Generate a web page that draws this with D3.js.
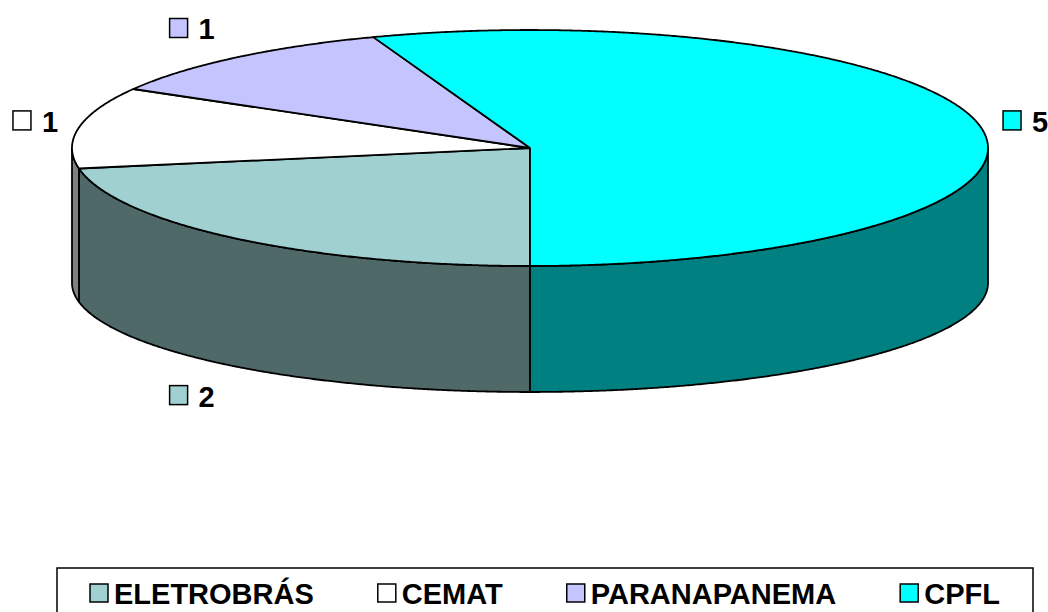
<!DOCTYPE html>
<html><head><meta charset="utf-8">
<script src="https://cdn.jsdelivr.net/npm/d3@7"></script>
<style>body{margin:0;background:#fff} svg{display:block}</style>
</head><body>
<script>
const categories = ["ELETROBRÁS", "CEMAT", "PARANAPANEMA", "CPFL"];
const values = [2, 1, 1, 5];
const topColors = ["#A0D0D0", "#FFFFFF", "#C4C4FF", "#00FFFF"];
const sideColors = ["#4F6868", "#808080", "#6262A0", "#008080"];

const W = 1048, H = 612;
const svg = d3.select("body").append("svg").attr("width", W).attr("height", H)
  .style("font-family", "'Liberation Sans', Arial, sans-serif").style("font-weight", "bold");

const cx = 530, cy = 148, rx = 458, ry = 118, cyB = 283, ryB = 109;
const data = categories.map((c, i) => ({name: c, value: values[i], top: topColors[i], side: sideColors[i]}));
const pie = d3.pie().sort(null).value(d => d.value).startAngle(Math.PI).endAngle(3 * Math.PI);
const arcs = pie(data);

function pt(a, bottom) {
  return [cx + rx * Math.sin(a), bottom ? cyB - ryB * Math.cos(a) : cy - ry * Math.cos(a)];
}
function arcPts(a0, a1, bottom) {
  const n = Math.max(2, Math.ceil(Math.abs(a1 - a0) / 0.005));
  return d3.range(n + 1).map(i => pt(a0 + (a1 - a0) * i / n, bottom));
}
const line = d3.line();

// side walls (front half only)
const gWalls = svg.append("g");
arcs.forEach(d => {
  for (let k = -1; k <= 2; k++) {
    const f0 = Math.PI / 2 + 2 * Math.PI * k, f1 = 3 * Math.PI / 2 + 2 * Math.PI * k;
    const s = Math.max(d.startAngle, f0), e = Math.min(d.endAngle, f1);
    if (e > s) {
      const pts = arcPts(s, e, false).concat(arcPts(e, s, true));
      gWalls.append("path").attr("d", line(pts) + "Z")
        .attr("fill", d.data.side).attr("stroke", "#000").attr("stroke-width", 1.8)
        .attr("stroke-linejoin", "round");
    }
  }
});

// top faces
const gTop = svg.append("g");
arcs.forEach(d => {
  const pts = [[cx, cy]].concat(arcPts(d.startAngle, d.endAngle, false));
  gTop.append("path").attr("d", line(pts) + "Z")
    .attr("fill", d.data.top).attr("stroke", "#000").attr("stroke-width", 1.8)
    .attr("stroke-linejoin", "round");
});

// data labels
const gLab = svg.append("g");
arcs.forEach(d => {
  const a = (d.startAngle + d.endAngle) / 2;
  const front = Math.cos(a) < 0;
  const p = pt(a, front);
  const lx = p[0] + Math.sign(Math.sin(a)) * 44;
  const ly = p[1] - Math.cos(a) * 38;
  gLab.append("rect").attr("x", lx - 22).attr("y", ly - 10).attr("width", 18).attr("height", 19)
    .attr("fill", d.data.top).attr("stroke", "#000").attr("stroke-width", 1.5);
  gLab.append("text").attr("x", lx + 7).attr("y", ly + 11).attr("font-size", 29)
    .attr("fill", "#000").text(d.data.value);
});

// legend
const gLeg = svg.append("g");
gLeg.append("rect").attr("x", 57).attr("y", 568).attr("width", 976).attr("height", 70)
  .attr("fill", "#fff").attr("stroke", "#000").attr("stroke-width", 1.5);
let x = 90;
data.forEach(d => {
  gLeg.append("rect").attr("x", x).attr("y", 584).attr("width", 18).attr("height", 18)
    .attr("fill", d.top).attr("stroke", "#000").attr("stroke-width", 1.5);
  const t = gLeg.append("text").attr("x", x + 24).attr("y", 604).attr("font-size", 29)
    .attr("fill", "#000").text(d.name);
  x = x + 24 + t.node().getComputedTextLength() + 64;
});
</script>
</body></html>
